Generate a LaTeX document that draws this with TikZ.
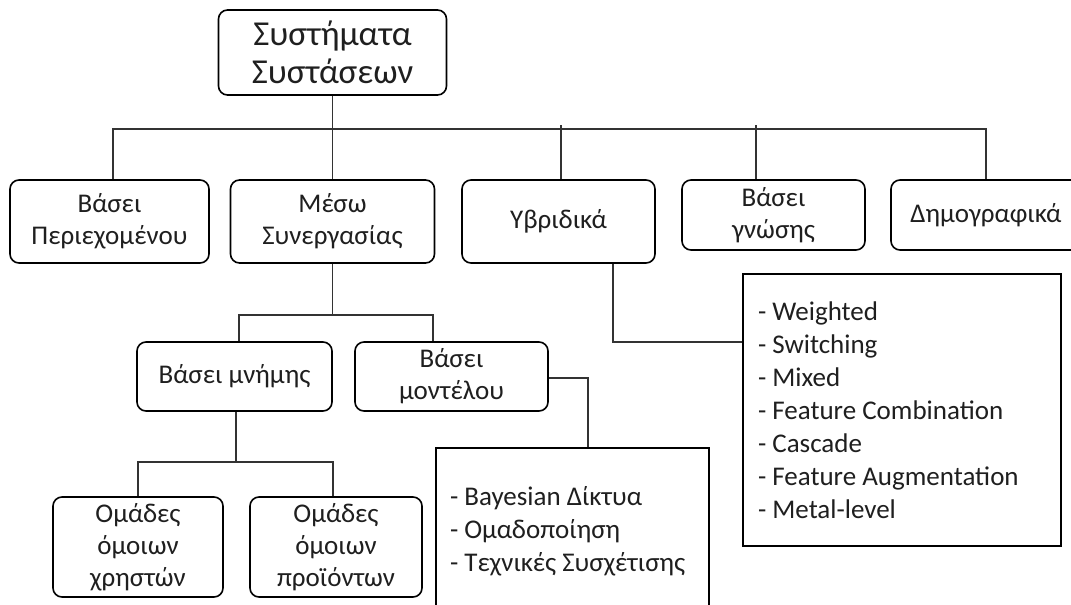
\documentclass[tikz,border=0pt]{standalone}
\usepackage{fontspec}
\setmainfont{Carlito}
\newcommand\rootf{\fontsize{35}{38}\selectfont}
\newcommand\boxf{\fontsize{27}{32}\selectfont}
\newcommand\listf{\fontsize{27}{33}\selectfont}
\begin{document}
\begin{tikzpicture}[x=1pt,y=-1pt,
  box/.style={draw=black, line width=1.6pt, rounded corners=9pt, align=center, inner sep=0pt, text=black!88, font=\boxf},
  lbox/.style={draw=black, line width=1.8pt, align=left, inner ysep=0pt, text=black!88, font=\listf},
  conn/.style={draw=black!80, line width=1.1pt}]
\useasboundingbox (0,0) rectangle (1071,605);
\fill[white] (0,0) rectangle (1071,605);

% nodes
\node[box, font=\rootf, minimum width=228pt, minimum height=85pt] (root) at (332.5,52.5) {Συστήματα\\Συστάσεων};
\node[box, minimum width=199pt, minimum height=83pt] (perie) at (109.5,221.5) {Βάσει\\Περιεχομένου};
\node[box, minimum width=204pt, minimum height=83pt] (meso) at (332.5,221.5) {Μέσω\\Συνεργασίας};
\node[box, minimum width=193pt, minimum height=83pt] (yvr) at (558.5,221.5) {Υβριδικά};
\node[box, minimum width=183pt, minimum height=70pt] (gnosi) at (773.5,215) {Βάσει\\γνώσης};
\node[box, minimum width=190pt, minimum height=70pt] (dimo) at (986,215) {Δημογραφικά};
\node[box, minimum width=195pt, minimum height=69pt] (mnimi) at (234.5,376.5) {Βάσει μνήμης};
\node[box, minimum width=193pt, minimum height=69pt] (montelo) at (451.5,376.5) {Βάσει\\μοντέλου};
\node[box, minimum width=170pt, minimum height=100pt] (users) at (138,547) {Ομάδες\\όμοιων\\χρηστών};
\node[box, minimum width=172pt, minimum height=100pt] (items) at (336,547) {Ομάδες\\όμοιων\\προϊόντων};
\node[lbox, text width=245pt, inner xsep=14pt, minimum height=166pt] (mlist) at (572.5,531)
  {\spaceskip=0pt \xspaceskip=0pt - Bayesian Δίκτυα\\- Ομαδοποίηση\\- Τεχνικές Συσχέτισης};
\node[lbox, text width=288pt, inner xsep=15pt, minimum height=272pt] (hlist) at (902,410)
  {\spaceskip=0pt \xspaceskip=0pt - Weighted\\- Switching\\- Mixed\\- Feature Combination\\- Cascade\\- Feature Augmentation\\- Metal-level};

% top level connectors
\coordinate (busL) at (113,129);
\coordinate (busR) at (986,129);
\coordinate (t3) at (561,125);
\coordinate (t4) at (756,125);
\draw[conn] (root.south) -- (meso.north);
\draw[conn] (busL |- perie.north) -- (busL) -- (busR) -- (busR |- dimo.north);
\draw[conn] (t3) -- (t3 |- yvr.north);
\draw[conn] (t4) -- (t4 |- gnosi.north);

% collaborative subtree
\coordinate (sL) at (239,315);
\coordinate (sR) at (433,315);
\draw[conn] (meso.south) -- (meso.south |- sL);
\draw[conn] (sL |- mnimi.north) -- (sL) -- (sR) -- (sR |- montelo.north);

\coordinate (m1) at (236,462);
\coordinate (uL) at (138,462);
\coordinate (uR) at (333,462);
\draw[conn] (m1 |- mnimi.south) -- (m1);
\draw[conn] (uL |- users.north) -- (uL) -- (uR) -- (uR |- items.north);

\coordinate (mk) at (588,378);
\draw[conn] (montelo.east |- mk) -- (mk) -- (mk |- mlist.north);

% hybrid list
\coordinate (h1) at (613,342);
\draw[conn] (h1 |- yvr.south) -- (h1) -- (h1 -| hlist.west);
\end{tikzpicture}
\end{document}
